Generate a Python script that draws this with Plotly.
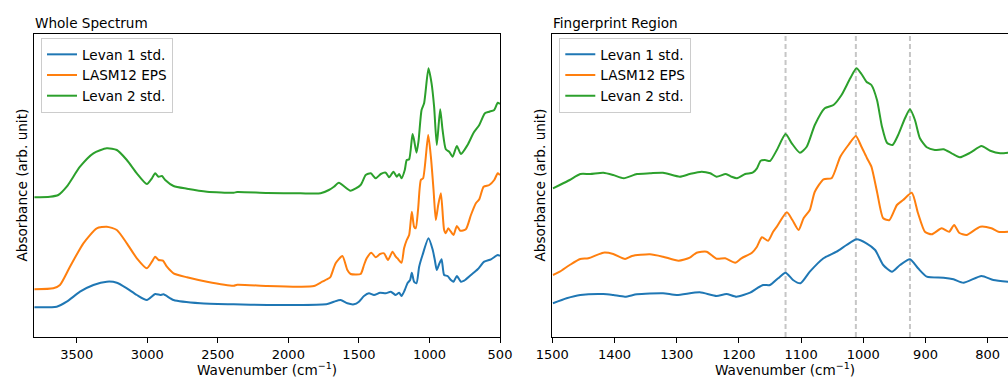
import plotly.graph_objects as go

# ---------------- Whole spectrum (left) ----------------
wn_full_green = [3800, 3690, 3631, 3571, 3477, 3382, 3287, 3216, 3145, 3074, 3003, 2967, 2944, 2920, 2896, 2873,
                 2814, 2719, 2577, 2388, 2363, 2150, 1914, 1772, 1713, 1677, 1642, 1559, 1488, 1452, 1416, 1381,
                 1345, 1310, 1286, 1255, 1232, 1215, 1198, 1175, 1161, 1144, 1120, 1109, 1092, 1078, 1056, 1038,
                 1007, 985, 967, 948, 924, 907, 884, 860, 836, 806, 777, 730, 687, 647, 607, 576, 541, 516, 500]
abs_full_green = [1.397, 1.403, 1.42, 1.503, 1.703, 1.837, 1.887, 1.87, 1.77, 1.637, 1.53, 1.587, 1.637, 1.603, 1.61, 1.57,
                  1.51, 1.483, 1.453, 1.443, 1.45, 1.44, 1.437, 1.437, 1.47, 1.503, 1.543, 1.463, 1.52, 1.62, 1.637, 1.587,
                  1.63, 1.643, 1.597, 1.653, 1.603, 1.63, 1.587, 1.67, 1.77, 1.777, 2.03, 1.97, 1.843, 1.953, 2.27, 2.337,
                  2.687, 2.537, 2.303, 1.92, 2.277, 2.07, 1.877, 1.853, 1.803, 1.91, 1.83, 1.92, 2.043, 2.12, 2.237, 2.253,
                  2.27, 2.343, 2.33]

wn_full_orange = [3800, 3666, 3619, 3548, 3453, 3358, 3287, 3216, 3145, 3074, 3003, 2967, 2944, 2920, 2889, 2861,
                  2814, 2719, 2577, 2388, 2363, 2150, 1914, 1819, 1760, 1713, 1701, 1665, 1617, 1582, 1559, 1488,
                  1464, 1445, 1412, 1381, 1350, 1322, 1294, 1262, 1239, 1227, 1198, 1180, 1161, 1144, 1125, 1109,
                  1097, 1080, 1061, 1045, 1009, 990, 971, 955, 938, 919, 896, 884, 867, 848, 829, 806, 782, 742,
                  706, 671, 647, 616, 576, 541, 516, 500]
abs_full_orange = [0.477, 0.487, 0.52, 0.703, 0.937, 1.087, 1.103, 1.07, 0.937, 0.787, 0.687, 0.753, 0.803, 0.77, 0.763, 0.703,
                   0.637, 0.597, 0.553, 0.513, 0.523, 0.51, 0.503, 0.51, 0.553, 0.587, 0.603, 0.737, 0.81, 0.67, 0.63, 0.63,
                   0.72, 0.787, 0.843, 0.797, 0.83, 0.837, 0.77, 0.853, 0.803, 0.787, 0.743, 0.887, 0.97, 1.02, 1.253, 1.103,
                   1.087, 1.287, 1.57, 1.587, 2.02, 1.803, 1.47, 1.17, 1.32, 1.437, 1.07, 1.037, 1.087, 1.053, 1.02, 1.11,
                   1.063, 1.077, 1.22, 1.337, 1.377, 1.503, 1.52, 1.57, 1.637, 1.62]

wn_full_blue = [3800, 3642, 3571, 3477, 3382, 3287, 3216, 3145, 3074, 3003, 2944, 2908, 2885, 2814, 2624, 2388,
                2150, 1914, 1724, 1677, 1630, 1582, 1535, 1500, 1464, 1429, 1393, 1350, 1310, 1274, 1239, 1215,
                1198, 1175, 1156, 1137, 1125, 1109, 1092, 1073, 1049, 1007, 978, 962, 948, 931, 914, 896, 872,
                848, 829, 806, 777, 754, 706, 658, 612, 564, 516, 500]
abs_full_blue = [0.297, 0.303, 0.353, 0.453, 0.52, 0.553, 0.543, 0.487, 0.42, 0.37, 0.43, 0.42, 0.427, 0.37, 0.337, 0.327,
                 0.32, 0.32, 0.33, 0.353, 0.37, 0.337, 0.327, 0.353, 0.41, 0.437, 0.42, 0.443, 0.437, 0.453, 0.42, 0.443,
                 0.41, 0.47, 0.537, 0.57, 0.643, 0.553, 0.537, 0.703, 0.82, 0.987, 0.877, 0.77, 0.67, 0.73, 0.777, 0.62, 0.61,
                 0.57, 0.553, 0.61, 0.553, 0.563, 0.62, 0.677, 0.753, 0.777, 0.82, 0.81]

# ---------------- Fingerprint region (right) ----------------
wn_fp_green = [1499, 1488, 1472, 1455, 1439, 1418, 1402, 1385, 1364, 1343, 1322, 1295, 1279, 1260, 1246, 1236,
               1221, 1212, 1203, 1190, 1178, 1171, 1165, 1158, 1150, 1139, 1125, 1115, 1102, 1091, 1078, 1062,
               1048, 1035, 1021, 1011, 1003, 995, 987, 978, 970, 962, 953, 944, 933, 925, 917, 909, 898, 885,
               871, 858, 845, 828, 810, 796, 780, 767]
abs_fp_green = [1.487, 1.52, 1.57, 1.63, 1.63, 1.643, 1.62, 1.587, 1.63, 1.637, 1.643, 1.603, 1.63, 1.653, 1.637, 1.603,
                1.63, 1.603, 1.587, 1.63, 1.643, 1.687, 1.763, 1.77, 1.76, 1.87, 2.03, 1.937, 1.843, 1.903, 2.12, 2.287,
                2.32, 2.42, 2.587, 2.687, 2.63, 2.553, 2.52, 2.37, 2.103, 1.943, 1.92, 2.02, 2.187, 2.277, 2.17, 1.987,
                1.897, 1.87, 1.877, 1.837, 1.797, 1.843, 1.91, 1.863, 1.837, 1.843]

wn_fp_orange = [1499, 1488, 1472, 1455, 1442, 1418, 1402, 1383, 1372, 1343, 1322, 1297, 1279, 1268, 1252, 1236,
                1222, 1206, 1196, 1179, 1171, 1163, 1153, 1145, 1139, 1123, 1114, 1104, 1096, 1086, 1078, 1064,
                1051, 1037, 1024, 1012, 1003, 994, 987, 978, 968, 958, 946, 936, 922, 912, 901, 890, 874, 862,
                854, 846, 834, 812, 794, 783, 767]
abs_fp_orange = [0.62, 0.653, 0.72, 0.78, 0.787, 0.843, 0.83, 0.78, 0.81, 0.827, 0.803, 0.763, 0.793, 0.843, 0.853, 0.783,
                 0.787, 0.743, 0.787, 0.843, 0.903, 0.997, 0.963, 1.053, 1.103, 1.247, 1.17, 1.07, 1.187, 1.27, 1.453, 1.577,
                 1.587, 1.803, 1.92, 2.01, 1.903, 1.787, 1.703, 1.453, 1.187, 1.17, 1.32, 1.37, 1.443, 1.237, 1.053, 1.027,
                 1.087, 1.053, 1.12, 1.043, 1.02, 1.103, 1.087, 1.053, 1.053]

wn_fp_blue = [1499, 1477, 1455, 1418, 1402, 1383, 1364, 1322, 1300, 1263, 1236, 1220, 1204, 1182, 1171, 1161,
              1150, 1137, 1125, 1113, 1101, 1086, 1064, 1043, 1027, 1011, 995, 981, 968, 954, 941, 925, 912,
              898, 871, 855, 839, 810, 791, 767]
abs_fp_blue = [0.337, 0.387, 0.42, 0.43, 0.42, 0.403, 0.427, 0.437, 0.42, 0.447, 0.41, 0.43, 0.403, 0.443, 0.487, 0.52,
               0.52, 0.587, 0.643, 0.57, 0.537, 0.653, 0.787, 0.853, 0.92, 0.977, 0.937, 0.87, 0.72, 0.653, 0.72, 0.777,
               0.687, 0.603, 0.593, 0.577, 0.543, 0.61, 0.57, 0.553]

marker_lines = [1125, 1012, 925]
series_names = ["Levan 1 std.", "LASM12 EPS", "Levan 2 std."]
colors = ["#1f77b4", "#ff7f0e", "#2ca02c"]
x_ticks_full = [3500, 3000, 2500, 2000, 1500, 1000, 500]
x_ticks_fp = [1500, 1400, 1300, 1200, 1100, 1000, 900, 800]

W, H = 1008, 379
FONT = "DejaVu Sans"
TXT = 13.6

fig = go.Figure()

full = [(wn_full_blue, abs_full_blue), (wn_full_orange, abs_full_orange), (wn_full_green, abs_full_green)]
fp = [(wn_fp_blue, abs_fp_blue), (wn_fp_orange, abs_fp_orange), (wn_fp_green, abs_fp_green)]

for i, (xs, ys) in enumerate(full):
    fig.add_trace(go.Scatter(x=xs, y=ys, mode="lines", name=series_names[i],
                             line=dict(color=colors[i], width=2, shape="spline", smoothing=0.6),
                             xaxis="x", yaxis="y", legend="legend"))
for i, (xs, ys) in enumerate(fp):
    fig.add_trace(go.Scatter(x=xs, y=ys, mode="lines", name=series_names[i],
                             line=dict(color=colors[i], width=2, shape="spline", smoothing=0.6),
                             xaxis="x2", yaxis="y2", legend="legend2"))

for xv in marker_lines:
    fig.add_shape(type="line", xref="x2", yref="y2 domain", x0=xv, x1=xv, y0=0, y1=1,
                  line=dict(color="rgba(160,160,160,0.6)", width=2, dash="5px,3px"), layer="below")

ydom = [1 - 337 / H, 1 - 34 / H]
axis_common = dict(showgrid=False, zeroline=False, showline=True, linecolor="black", linewidth=1,
                   ticks="outside", ticklen=5, tickwidth=1, tickcolor="black", automargin=False,
                   tickfont=dict(family=FONT, size=13, color="black"))
yaxis_common = dict(domain=ydom, range=[0, 3.03], showticklabels=False, ticks="", showgrid=False,
                    zeroline=False, showline=True, linecolor="black", linewidth=1, automargin=False)
legend_common = dict(yanchor="top", xanchor="left", y=1 - 38 / H, bgcolor="rgba(255,255,255,0.8)",
                     bordercolor="#cccccc", borderwidth=1, font=dict(family=FONT, size=TXT, color="black"))

fig.update_layout(
    width=W, height=H, autosize=False,
    margin=dict(l=0, r=0, t=0, b=0, pad=0),
    paper_bgcolor="white", plot_bgcolor="white",
    font=dict(family=FONT, size=13, color="black"),
    xaxis=dict(domain=[34 / W, 500 / W], range=[3803, 500], tickvals=x_ticks_full, mirror=True,
               anchor="y", **axis_common),
    yaxis=dict(mirror=True, anchor="x", **yaxis_common),
    xaxis2=dict(domain=[552.3 / W, 1.0], range=[1500, 767.4], tickvals=x_ticks_fp, mirror=True,
                anchor="y2", **axis_common),
    yaxis2=dict(mirror=False, anchor="x2", **yaxis_common),
    legend=dict(x=41 / W, **legend_common),
    legend2=dict(x=559.3 / W, **legend_common),
    showlegend=True,
)

annots = [
    dict(text="Whole Spectrum", x=34 / W, y=1 - 23 / H, xanchor="left", yanchor="middle"),
    dict(text="Fingerprint Region", x=552.3 / W, y=1 - 23 / H, xanchor="left", yanchor="middle"),
    dict(text="Wavenumber (cm<sup>−1</sup>)", x=267 / W, y=0, xanchor="center", yanchor="bottom"),
    dict(text="Wavenumber (cm<sup>−1</sup>)", x=785 / W, y=0, xanchor="center", yanchor="bottom"),
    dict(text="Absorbance (arb. unit)", x=21 / W, y=1 - 185.5 / H, xanchor="center", yanchor="middle", textangle=-90),
    dict(text="Absorbance (arb. unit)", x=539 / W, y=1 - 185.5 / H, xanchor="center", yanchor="middle", textangle=-90),
]
for a in annots:
    fig.add_annotation(xref="paper", yref="paper", showarrow=False, borderpad=0,
                       font=dict(family=FONT, size=TXT, color="black"), **a)

fig.write_html("out.html")
